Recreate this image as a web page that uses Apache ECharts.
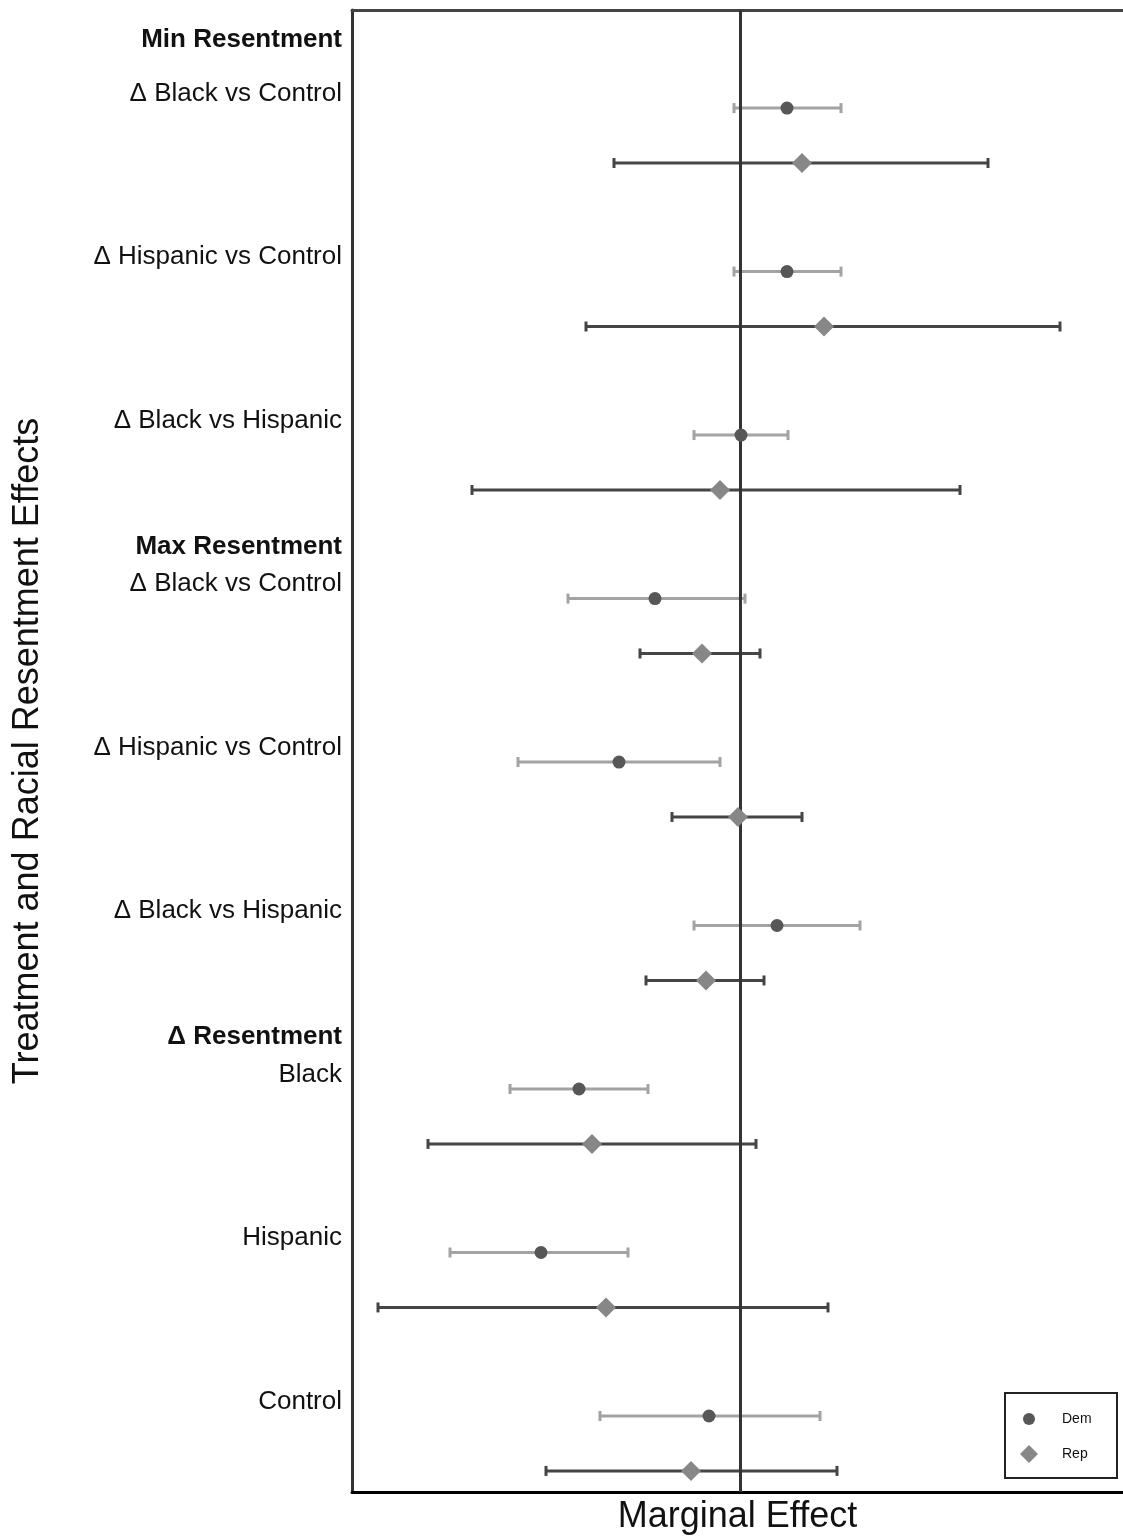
<!DOCTYPE html>
<html>
<head>
<meta charset="utf-8">
<style>
html,body{margin:0;padding:0;background:#fff;}
#chart{width:1123px;height:1539px;}
</style>
<script src="https://cdn.jsdelivr.net/npm/echarts@6/dist/echarts.min.js"></script>
</head>
<body>
<div id="chart"></div>
<script>
// ---- data (marginal effects, arbitrary units; 0 = no effect) ----
const rowLabels = ['Δ Black vs Control','Δ Hispanic vs Control','Δ Black vs Hispanic',
                   'Δ Black vs Control','Δ Hispanic vs Control','Δ Black vs Hispanic',
                   'Black','Hispanic','Control'];
const headerLabels = ['Min Resentment','Max Resentment','Δ Resentment'];
const headerRows = [0, 3, 6];

const demEst  = [0.47, 0.47, 0.01, -0.85, -1.21, 0.37, -1.61, -1.99, -0.31];
const demLow  = [-0.06, -0.06, -0.46, -1.72, -2.22, -0.46, -2.30, -2.90, -1.40];
const demHigh = [1.01, 1.01, 0.48, 0.05, -0.20, 1.20, -0.92, -1.12, 0.80];

const repEst  = [0.62, 0.84, -0.20, -0.38, -0.02, -0.34, -1.48, -1.34, -0.49];
const repLow  = [-1.26, -1.54, -2.68, -1.00, -0.68, -0.94, -3.12, -3.62, -1.94];
const repHigh = [2.48, 3.20, 2.20, 0.20, 0.62, 0.24, 0.16, 0.88, 0.97];

// ---- layout helpers ----
const X_MIN = -3.88, X_MAX = 3.83;
const REP_SHIFT = 0.336, LABEL_SHIFT = -0.088;
const demY = i => i;
const repY = i => i + REP_SHIFT;

const FONT = 'Liberation Sans, Arial, sans-serif';

function ciSeries(name, low, high, yf, color) {
  return {
    name: name, type: 'custom', z: 2,
    data: low.map((l, i) => [l, high[i], yf(i)]),
    renderItem: function (params, api) {
      const a = api.coord([api.value(0), api.value(2)]);
      const b = api.coord([api.value(1), api.value(2)]);
      const h = 5;
      const st = { stroke: color, lineWidth: 3 };
      return {
        type: 'group',
        children: [
          { type: 'line', shape: { x1: a[0], y1: a[1], x2: b[0], y2: b[1] }, style: st },
          { type: 'line', shape: { x1: a[0], y1: a[1] - h, x2: a[0], y2: a[1] + h }, style: st },
          { type: 'line', shape: { x1: b[0], y1: b[1] - h, x2: b[0], y2: b[1] + h }, style: st }
        ]
      };
    }
  };
}

const labelData = rowLabels.map((t, i) => ({ value: [X_MIN, i + LABEL_SHIFT], name: t }));
const headerData = headerLabels.map((t, k) => {
  const r = headerRows[k];
  const off = r === 0 ? 0.42 : 0.318;
  return { value: [X_MIN, r - off], name: t };
});

const chart = echarts.init(document.getElementById('chart'));
chart.setOption({
  animation: false,
  backgroundColor: '#fff',
  grid: { left: 352, right: 0, top: 10, bottom: 47, containLabel: false, outerBoundsMode: 'none' },
  xAxis: [
    {
      type: 'value', min: X_MIN, max: X_MAX, position: 'bottom',
      name: 'Marginal Effect', nameLocation: 'middle', nameGap: 7,
      nameTextStyle: { fontFamily: FONT, fontSize: 36, color: '#111', verticalAlign: 'top' },
      axisLine: { show: true, onZero: false, lineStyle: { color: '#000', width: 3 } },
      axisTick: { show: false }, axisLabel: { show: false }, splitLine: { show: false }
    },
    {
      type: 'value', min: X_MIN, max: X_MAX, position: 'top',
      axisLine: { show: true, onZero: false, lineStyle: { color: '#444', width: 3 } },
      axisTick: { show: false }, axisLabel: { show: false }, splitLine: { show: false }
    }
  ],
  yAxis: {
    type: 'value', min: -0.6, max: 8.465, inverse: true,
    name: 'Treatment and Racial Resentment Effects', nameLocation: 'middle', nameGap: 306, nameRotate: 90,
    nameTextStyle: { fontFamily: FONT, fontSize: 36, color: '#111' },
    axisLine: { show: true, onZero: false, lineStyle: { color: '#333', width: 3 } },
    axisTick: { show: false }, axisLabel: { show: false }, splitLine: { show: false }
  },
  legend: [
    {
      data: [{ name: 'Dem', icon: 'circle' }], orient: 'vertical',
      left: 1018, top: 1407, itemWidth: 12, itemHeight: 12, itemGap: 0,
      textStyle: { fontFamily: FONT, fontSize: 14, color: '#111', padding: [0, 0, 0, 22] }
    },
    {
      data: [{ name: 'Rep', icon: 'diamond' }], orient: 'vertical',
      left: 1015, top: 1440, itemWidth: 18, itemHeight: 18, itemGap: 0,
      textStyle: { fontFamily: FONT, fontSize: 14, color: '#111', padding: [0, 0, 0, 19] }
    }
  ],
  graphic: [{
    type: 'rect', left: 1004, top: 1392,
    shape: { width: 112, height: 85 },
    style: { fill: 'rgba(0,0,0,0)', stroke: '#222', lineWidth: 2 }, z: 10
  }],
  series: [
    ciSeries('Dem CI', demLow, demHigh, demY, '#a3a3a3'),
    ciSeries('Rep CI', repLow, repHigh, repY, '#454545'),
    {
      name: 'zero', type: 'scatter', data: [], z: 3, silent: true,
      markLine: {
        silent: true, symbol: 'none', label: { show: false },
        lineStyle: { color: '#333', width: 3, type: 'solid' },
        data: [{ xAxis: 0 }]
      }
    },
    {
      name: 'Dem', type: 'scatter', z: 5, symbol: 'circle', symbolSize: 13,
      itemStyle: { color: '#575757', opacity: 1 },
      data: demEst.map((v, i) => [v, demY(i)])
    },
    {
      name: 'Rep', type: 'scatter', z: 5, symbol: 'diamond', symbolSize: 20,
      itemStyle: { color: '#878787', opacity: 1 },
      data: repEst.map((v, i) => [v, repY(i)])
    },
    {
      name: 'rowLabels', type: 'scatter', symbolSize: 0, clip: false, silent: true, z: 6,
      itemStyle: { opacity: 1 },
      data: labelData,
      label: {
        show: true, position: 'left', distance: 10, opacity: 1,
        fontFamily: FONT, fontSize: 26, color: '#111',
        formatter: p => p.name
      }
    },
    {
      name: 'headerLabels', type: 'scatter', symbolSize: 0, clip: false, silent: true, z: 6,
      itemStyle: { opacity: 1 },
      data: headerData,
      label: {
        show: true, position: 'left', distance: 10, opacity: 1,
        fontFamily: FONT, fontSize: 26, fontWeight: 'bold', color: '#111',
        formatter: p => p.name
      }
    }
  ]
});
</script>
</body>
</html>
